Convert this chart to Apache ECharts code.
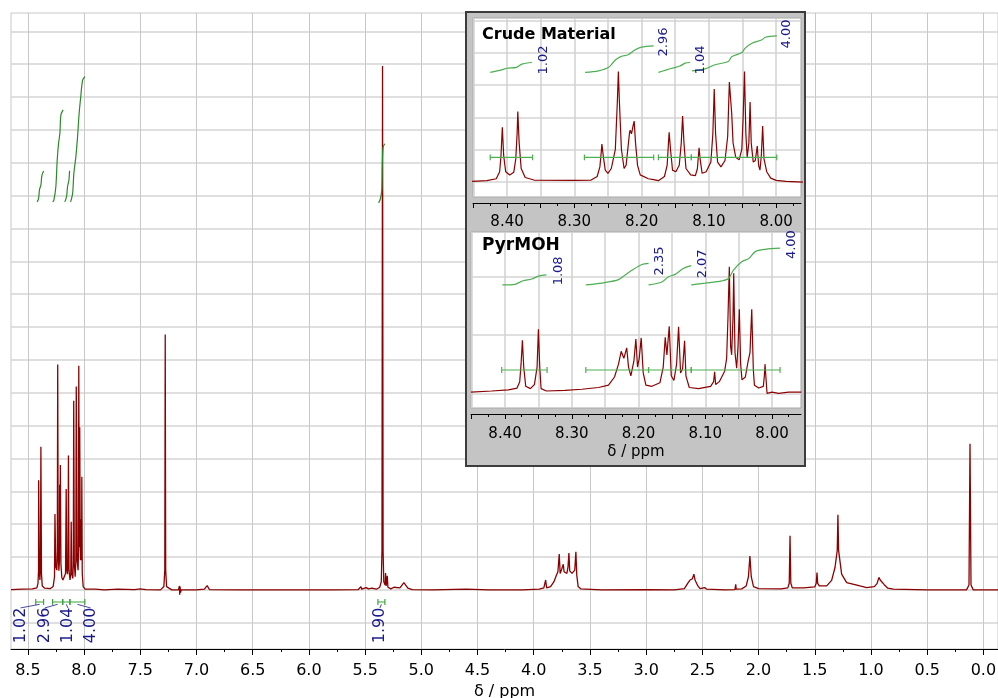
<!DOCTYPE html>
<html>
<head>
<meta charset="utf-8">
<script src="https://cdn.jsdelivr.net/npm/echarts@6/dist/echarts.min.js"></script>
<style>
html, body { margin: 0; padding: 0; background: #fff; }
#chart { width: 998px; height: 698px; }
</style>
</head>
<body>
<div id="chart"></div>
<script>
// ---- main spectrum: [ppm, intensity] (intensity in grid rows) ----
var mainSpectrum = [
  [8.65,0.01],[8.55,0.02],[8.46,0.03],[8.42,0.06],[8.41,0.2],[8.405,0.6],[8.404,3.34],[8.398,0.6],[8.393,0.3],
  [8.388,0.7],[8.384,4.36],[8.379,0.5],[8.372,0.12],[8.35,0.05],[8.30,0.04],[8.275,0.1],[8.263,0.4],[8.259,2.31],
  [8.252,0.7],[8.242,0.6],[8.238,1.2],[8.2345,6.86],[8.230,1.0],[8.224,0.58],[8.219,0.9],[8.217,3.2],[8.215,1.6],
  [8.211,3.80],[8.206,0.8],[8.198,0.38],[8.188,0.3],[8.175,0.27],[8.165,0.5],[8.159,3.07],[8.154,0.6],[8.148,0.48],
  [8.143,0.8],[8.139,4.09],[8.134,0.6],[8.125,0.3],[8.118,0.5],[8.1145,2.07],[8.11,0.5],[8.1,0.35],[8.096,0.8],
  [8.092,5.76],[8.087,0.8],[8.079,0.4],[8.073,0.9],[8.0695,6.19],[8.066,4.4],[8.062,0.9],[8.053,0.6],[8.05,1.2],
  [8.047,6.82],[8.043,1.3],[8.0387,4.95],[8.034,1.2],[8.031,0.9],[8.028,2.15],[8.025,0.9],[8.022,1.0],[8.020,3.44],
  [8.016,0.5],[8.008,0.1],[7.99,0.02],[7.9,0.02],[7.82,0.0],[7.7,0.02],[7.55,0.01],[7.5,0.03],[7.45,0.01],
  [7.32,0.0],[7.29,0.1],[7.282,0.6],[7.278,7.77],[7.274,0.6],[7.266,0.1],[7.22,0.0],[7.16,0.0],[7.152,0.12],
  [7.149,-0.15],[7.146,0.1],[7.142,-0.08],[7.135,0.0],[7.0,0.0],[6.93,0.02],[6.905,0.13],[6.885,0.01],[6.6,0.0],
  [6.2,0.0],[5.8,0.0],[5.56,0.01],[5.537,0.1],[5.53,0.02],[5.49,0.07],[5.47,0.03],[5.44,0.05],[5.40,0.02],
  [5.37,0.08],[5.356,0.25],[5.35,1.2],[5.345,15.95],[5.34,1.2],[5.334,0.25],[5.322,0.15],[5.318,0.51],[5.313,0.12],
  [5.303,0.43],[5.297,0.08],[5.27,0.03],[5.244,0.08],[5.23,0.02],[5.19,0.06],[5.155,0.22],[5.12,0.05],[5.08,0.01],
  [4.9,0.0],[4.6,0.02],[4.4,0.0],[4.1,0.0],[3.95,0.02],[3.91,0.06],[3.894,0.30],[3.885,0.06],[3.85,0.1],
  [3.82,0.25],[3.80,0.43],[3.785,0.55],[3.773,1.09],[3.765,0.5],[3.752,0.62],[3.745,0.7],[3.737,0.78],[3.73,0.55],
  [3.72,0.6],[3.705,0.5],[3.695,0.7],[3.687,1.12],[3.68,0.58],[3.669,0.6],[3.66,0.5],[3.648,0.45],[3.635,0.6],
  [3.625,1.16],[3.617,0.45],[3.605,0.1],[3.58,0.03],[3.4,0.0],[3.0,0.01],[2.75,0.0],[2.66,0.04],[2.626,0.22],
  [2.61,0.3],[2.59,0.33],[2.575,0.48],[2.565,0.3],[2.557,0.3],[2.54,0.12],[2.52,0.04],[2.48,0.07],[2.46,0.02],
  [2.30,0.0],[2.21,0.01],[2.203,0.17],[2.199,0.02],[2.15,0.03],[2.11,0.12],[2.09,0.4],[2.077,1.03],[2.065,0.4],
  [2.045,0.1],[2.0,0.04],[1.8,0.03],[1.74,0.06],[1.727,0.2],[1.72,1.65],[1.713,0.2],[1.70,0.06],[1.6,0.06],
  [1.5,0.09],[1.487,0.2],[1.480,0.53],[1.474,0.2],[1.46,0.12],[1.394,0.12],[1.35,0.29],[1.32,0.68],[1.30,1.2],
  [1.294,2.29],[1.288,1.2],[1.261,0.48],[1.216,0.22],[1.098,0.12],[1.038,0.07],[0.97,0.1],[0.945,0.2],[0.929,0.38],
  [0.918,0.3],[0.905,0.27],[0.88,0.15],[0.85,0.05],[0.8,0.02],[0.5,0.0],[0.15,0.0],[0.128,0.15],[0.119,4.45],
  [0.11,0.15],[0.09,0.0],[-0.13,0.0]
];
var mainIntegrals = [
  [[8.417,11.81],[8.405,11.91],[8.396,12.19],[8.384,12.32],[8.375,12.62],[8.36,12.75]],
  [[8.28,11.81],[8.269,11.86],[8.251,12.27],[8.239,13.08],[8.227,13.59],[8.215,13.90],[8.206,14.46],[8.186,14.61]],
  [[8.171,11.81],[8.156,11.97],[8.147,12.27],[8.135,12.47],[8.129,12.76]],
  [[8.12,11.81],[8.102,12.06],[8.091,12.67],[8.073,13.18],[8.058,13.79],[8.044,14.50],[8.031,14.96],[8.013,15.52],[7.993,15.62]],
  [[5.38,11.78],[5.365,11.89],[5.352,12.16],[5.347,12.93],[5.34,13.47],[5.325,13.58]]
];
var mainBrackets = [[8.43,8.36],[8.28,8.19],[8.19,8.126],[8.126,7.993],[5.386,5.324]];
var mainBracketLevel = -0.37;
var mainLabels = ['1.02','2.96','1.04','4.00','1.90'];
var mainLabelPpm = [8.565,8.349,8.144,7.942,5.368];
var mainLabelLevel = -1.08;
var mainMajorTicks = [8.5,8.0,7.5,7.0,6.5,6.0,5.5,5.0,4.5,4.0,3.5,3.0,2.5,2.0,1.5,1.0,0.5,0.0];
var mainMinorTicks = [8.5,8.25,8.0,7.75,7.5,7.25,7.0,6.75,6.5,6.25,6.0,5.75,5.5,5.25,5.0,4.75,4.5,4.25,4.0,3.75,
  3.5,3.25,3.0,2.75,2.5,2.25,2.0,1.75,1.5,1.25,1.0,0.75,0.5,0.25,0.0];
var mainRows = [-1,0,1,2,3,4,5,6,7,8,9,10,11,12,13,14,15,16,17];

// ---- inset: crude material ----
var crudeSpectrum = [
  [8.452,0.0],[8.43,0.02],[8.416,0.08],[8.411,0.3],[8.409,0.8],[8.407,1.69],[8.405,0.8],[8.402,0.3],[8.396,0.2],
  [8.39,0.28],[8.387,0.7],[8.385,1.5],[8.384,2.18],[8.382,1.2],[8.379,0.4],[8.373,0.12],[8.36,0.04],[8.30,0.03],
  [8.275,0.04],[8.266,0.15],[8.262,0.45],[8.26,0.9],[8.259,1.16],[8.257,0.8],[8.254,0.35],[8.25,0.25],[8.245,0.4],
  [8.239,1.0],[8.236,2.5],[8.2345,3.43],[8.233,2.5],[8.23,1.0],[8.226,0.4],[8.223,0.5],[8.22,1.1],[8.218,1.5],
  [8.217,1.60],[8.215,1.48],[8.2125,1.75],[8.211,1.88],[8.209,1.2],[8.206,0.5],[8.202,0.2],[8.19,0.08],[8.182,0.05],
  [8.175,0.02],[8.166,0.15],[8.162,0.5],[8.16,1.2],[8.159,1.53],[8.157,1.0],[8.154,0.35],[8.149,0.3],[8.144,0.5],
  [8.141,1.2],[8.139,2.04],[8.137,1.2],[8.134,0.4],[8.127,0.2],[8.12,0.18],[8.117,0.4],[8.1155,0.8],[8.1145,1.05],
  [8.113,0.7],[8.11,0.25],[8.104,0.3],[8.097,0.6],[8.094,1.5],[8.092,2.88],[8.09,1.5],[8.087,0.6],[8.082,0.45],
  [8.076,0.65],[8.072,1.4],[8.0695,3.10],[8.067,2.4],[8.066,2.12],[8.064,1.2],[8.06,0.75],[8.055,0.67],[8.051,1.0],
  [8.049,2.0],[8.047,3.43],[8.045,1.5],[8.043,0.75],[8.0405,1.2],[8.0387,2.48],[8.037,1.2],[8.034,0.6],[8.031,0.65],
  [8.029,0.95],[8.028,1.10],[8.026,0.5],[8.024,0.35],[8.022,0.8],[8.020,1.73],[8.018,0.7],[8.014,0.3],[8.008,0.1],
  [8.0,0.03],[7.985,0.0],[7.958,-0.03]
];
var crudeIntegrals = [
  [[8.425,3.40],[8.408,3.48],[8.400,3.53],[8.386,3.56],[8.378,3.66],[8.363,3.71]],
  [[8.284,3.40],[8.264,3.45],[8.249,3.56],[8.239,3.79],[8.230,3.90],[8.220,3.95],[8.210,4.10],[8.200,4.19],[8.182,4.23]],
  [[8.175,3.40],[8.163,3.48],[8.155,3.53],[8.143,3.60],[8.135,3.69],[8.128,3.71]],
  [[8.125,3.45],[8.106,3.51],[8.091,3.64],[8.071,3.74],[8.066,3.89],[8.051,4.02],[8.046,4.16],[8.036,4.31],[8.021,4.42],[8.016,4.50],[7.999,4.54]]
];
var crudeBrackets = [[8.425,8.362],[8.285,8.182],[8.175,8.126],[8.126,7.999]];
var crudeBracketLevel = 0.75;
var crudeLabels = ['1.02','2.96','1.04','4.00'];
var crudeLabelPpm = [8.346,8.167,8.112,7.984];
var crudeLabelLevel = [3.79,4.35,3.79,4.60];
var crudeRows = [0,1,2,3,4,5];

// ---- inset: PyrMOH ----
var pyrSpectrum = [
  [8.451,0.02],[8.42,0.04],[8.395,0.06],[8.382,0.09],[8.378,0.2],[8.376,0.5],[8.374,0.91],[8.372,0.45],[8.369,0.12],
  [8.362,0.08],[8.356,0.15],[8.352,0.45],[8.350,1.10],[8.348,0.45],[8.346,0.08],[8.338,0.04],[8.31,0.05],[8.285,0.07],
  [8.26,0.1],[8.245,0.14],[8.236,0.28],[8.23,0.5],[8.226,0.72],[8.224,0.74],[8.222,0.6],[8.2205,0.62],[8.2177,0.78],
  [8.215,0.45],[8.2115,0.3],[8.207,0.55],[8.204,0.93],[8.2015,0.45],[8.199,0.6],[8.196,0.95],[8.193,0.35],[8.189,0.14],
  [8.18,0.12],[8.168,0.18],[8.163,0.45],[8.160,0.96],[8.1575,0.66],[8.154,1.15],[8.151,0.3],[8.147,0.22],[8.143,0.5],
  [8.140,1.14],[8.137,0.35],[8.134,0.42],[8.131,0.90],[8.129,0.3],[8.124,0.1],[8.11,0.08],[8.092,0.12],[8.0875,0.2],
  [8.086,0.37],[8.0845,0.15],[8.079,0.2],[8.071,0.38],[8.068,0.6],[8.066,1.3],[8.064,2.17],[8.062,0.8],[8.0605,0.66],
  [8.0585,1.3],[8.0574,2.06],[8.0555,0.7],[8.053,0.43],[8.051,0.8],[8.049,1.44],[8.047,0.5],[8.045,0.23],[8.04,0.28],
  [8.036,0.54],[8.033,0.7],[8.0304,1.44],[8.028,0.4],[8.0264,0.14],[8.02,0.09],[8.013,0.12],[8.0115,0.3],[8.0105,0.5],
  [8.009,0.25],[8.0075,0.0],[8.0,0.02],[7.99,0.0],[7.975,0.02],[7.956,0.02]
];
var pyrIntegrals = [
  [[8.404,1.86],[8.385,1.87],[8.373,1.93],[8.360,1.96],[8.350,2.01],[8.338,2.03]],
  [[8.279,1.86],[8.250,1.90],[8.230,1.95],[8.220,2.03],[8.210,2.11],[8.195,2.21],[8.185,2.23]],
  [[8.185,1.86],[8.165,1.91],[8.155,2.00],[8.145,2.04],[8.133,2.14],[8.121,2.19]],
  [[8.121,1.86],[8.100,1.89],[8.075,1.93],[8.065,1.97],[8.058,2.11],[8.045,2.26],[8.035,2.31],[8.025,2.43],[8.010,2.47],[7.988,2.49]]
];
var pyrBrackets = [[8.405,8.337],[8.279,8.185],[8.185,8.121],[8.121,7.988]];
var pyrBracketLevel = 0.40;
var pyrLabels = ['1.08','2.35','2.07','4.00'];
var pyrLabelPpm = [8.319,8.168,8.104,7.970];
var pyrLabelLevel = [2.10,2.27,2.22,2.55];
var pyrRows = [0,1,2];

var insetLabelTicks = [8.40,8.30,8.20,8.10,8.00];
var insetMajorTicks = [8.45,8.40,8.35,8.30,8.25,8.20,8.15,8.10,8.05,8.00];
var insetMinorTicks = [8.45,8.425,8.40,8.375,8.35,8.325,8.30,8.275,8.25,8.225,8.20,8.175,8.15,8.125,8.10,8.075,8.05,8.025,8.00,7.975];

var FONT = 'DejaVu Sans';
var RED = '#8b0000';
var BLUE = '#1a1a8c';

function valueAxis(grid, min, max, o) {
  var a = {
    type: 'value', gridIndex: grid, min: min, max: max, position: 'bottom',
    axisLine: { show: false, onZero: false }, axisTick: { show: false }, axisLabel: { show: false },
    splitLine: { show: false }
  };
  for (var k in o) a[k] = o[k];
  return a;
}

function lineSeries(data, xi, yi, color, width, extra) {
  var s = {
    type: 'line', xAxisIndex: xi, yAxisIndex: yi, data: data,
    showSymbol: false, symbol: 'none', silent: true,
    lineStyle: { color: color, width: width }
  };
  for (var k in extra) s[k] = extra[k];
  return s;
}

function bracketSeries(list, level, d, xi, yi, color, extra) {
  return list.map(function (b) {
    return lineSeries([[b[0], level - d], [b[0], level + d], [b[0], level], [b[1], level],
      [b[1], level + d], [b[1], level - d]], xi, yi, color, 1.2, extra);
  });
}

function labelSeries(names, ppm, level, xi, yi, size, extra) {
  var s = {
    type: 'scatter', xAxisIndex: xi, yAxisIndex: yi, symbolSize: 0, silent: true,
    itemStyle: { opacity: 1 },
    data: names.map(function (n, i) {
      return { name: n, value: [ppm[i], Array.isArray(level) ? level[i] : level] };
    }),
    label: { show: true, position: 'inside', rotate: 90, formatter: '{b}', opacity: 1,
      color: BLUE, fontSize: size, fontFamily: FONT }
  };
  for (var k in extra) s[k] = extra[k];
  return s;
}

var chart = echarts.init(document.getElementById('chart'));

var series = [];
series.push(lineSeries(mainSpectrum, 0, 0, RED, 1.3, { z: 3 }));
mainIntegrals.forEach(function (c) {
  series.push(lineSeries(c, 0, 0, '#2a8a2a', 1.2, { smooth: 0.3 }));
});
series = series.concat(bracketSeries(mainBrackets, mainBracketLevel, 0.09, 0, 0, '#3aa53a', {}));
mainBrackets.forEach(function (b, i) {
  series.push(lineSeries([[mainLabelPpm[i], -0.55], [(b[0] + b[1]) / 2, -0.44]], 0, 0, BLUE, 0.8, {}));
});
series.push(labelSeries(mainLabels, mainLabelPpm, mainLabelLevel, 0, 0, 16, {}));

series.push(lineSeries(crudeSpectrum, 2, 1, RED, 1.2, { zlevel: 1, z: 6, clip: true }));
crudeIntegrals.forEach(function (c) {
  series.push(lineSeries(c, 2, 1, '#4caf50', 1.2, { zlevel: 1, z: 6, smooth: 0.3 }));
});
series = series.concat(bracketSeries(crudeBrackets, crudeBracketLevel, 0.09, 2, 1, '#4caf50', { zlevel: 1, z: 6 }));
series.push(labelSeries(crudeLabels, crudeLabelPpm, crudeLabelLevel, 2, 1, 13, { zlevel: 1, z: 7 }));

series.push(lineSeries(pyrSpectrum, 4, 2, RED, 1.2, { zlevel: 1, z: 6, clip: true }));
pyrIntegrals.forEach(function (c) {
  series.push(lineSeries(c, 4, 2, '#4caf50', 1.2, { zlevel: 1, z: 6, smooth: 0.3 }));
});
series = series.concat(bracketSeries(pyrBrackets, pyrBracketLevel, 0.05, 4, 2, '#4caf50', { zlevel: 1, z: 6 }));
series.push(labelSeries(pyrLabels, pyrLabelPpm, pyrLabelLevel, 4, 2, 13, { zlevel: 1, z: 7 }));

function insetXAxes(grid, min, max, withName, margin) {
  var major = valueAxis(grid, min, max, {
    inverse: true, zlevel: 1, z: 4, offset: 6,
    axisLine: { show: true, onZero: false, lineStyle: { color: '#000', width: 1 } },
    axisTick: { show: true, customValues: insetMajorTicks, length: 5, lineStyle: { color: '#000' } },
    axisLabel: { show: true, customValues: insetLabelTicks, margin: margin, color: '#000', fontSize: 15,
      fontFamily: FONT, formatter: function (v) { return v.toFixed(2); } },
    splitLine: { show: true, lineStyle: { color: '#d0d0d0', width: 1.5 } }
  });
  if (withName) {
    major.name = 'δ / ppm';
    major.nameLocation = 'middle';
    major.nameGap = 31;
    major.nameTextStyle = { color: '#000', fontSize: 15, fontFamily: FONT };
  }
  var minor = valueAxis(grid, min, max, {
    inverse: true, zlevel: 1, z: 4, offset: 6,
    axisLine: { show: false, onZero: false },
    axisTick: { show: true, customValues: insetMinorTicks, length: 3, lineStyle: { color: '#000' } }
  });
  return [major, minor];
}

var xAxes = [
  valueAxis(0, -0.13, 8.65, {
    inverse: true,
    axisLine: { show: true, onZero: false, lineStyle: { color: '#000', width: 1 } },
    axisTick: { show: true, customValues: mainMajorTicks, length: 6, lineStyle: { color: '#000' } },
    axisLabel: { show: true, customValues: mainMajorTicks, margin: 14, color: '#000', fontSize: 16,
      fontFamily: FONT, formatter: function (v) { return v.toFixed(1); } },
    splitLine: { show: true, lineStyle: { color: '#c8c8c8', width: 1 } },
    name: 'δ / ppm', nameLocation: 'middle', nameGap: 33,
    nameTextStyle: { color: '#000', fontSize: 16, fontFamily: FONT }
  }),
  valueAxis(0, -0.13, 8.65, {
    inverse: true,
    axisLine: { show: false, onZero: false },
    axisTick: { show: true, customValues: mainMinorTicks, length: 3, lineStyle: { color: '#000' } }
  })
].concat(insetXAxes(1, 7.963, 8.4506, false, 12)).concat(insetXAxes(2, 7.9566, 8.451, true, 13));

var yAxes = [
  valueAxis(0, -1.8, 17.56, {
    position: 'left',
    axisTick: { show: false, customValues: mainRows },
    splitLine: { show: true, lineStyle: { color: '#d4d4d4', width: 1.5 } }
  }),
  valueAxis(1, -0.49, 5.10, {
    position: 'left', zlevel: 1, z: 4,
    axisTick: { show: false, customValues: crudeRows },
    splitLine: { show: true, lineStyle: { color: '#d4d4d4', width: 1.5 } }
  }),
  valueAxis(2, -0.252, 2.767, {
    position: 'left', zlevel: 1, z: 4,
    axisTick: { show: false, customValues: pyrRows },
    splitLine: { show: true, lineStyle: { color: '#d4d4d4', width: 1.5 } }
  })
];

chart.setOption({
  animation: false,
  backgroundColor: '#ffffff',
  textStyle: { fontFamily: FONT },
  grid: [
    { left: 11, right: 0, top: 13, bottom: 49, show: true, borderColor: '#c8c8c8', borderWidth: 1,
      backgroundColor: 'transparent', outerBoundsMode: 'none' },
    { left: 473, top: 18, width: 328, height: 179, outerBoundsMode: 'none' },
    { left: 471, top: 232, width: 330, height: 176, outerBoundsMode: 'none' }
  ],
  xAxis: xAxes,
  yAxis: yAxes,
  graphic: { elements: [
    { type: 'rect', zlevel: 1, z: 0, silent: true, shape: { x: 466, y: 12, width: 339, height: 454 },
      style: { fill: '#c4c4c4', stroke: '#3c3c3c', lineWidth: 2 } },
    { type: 'rect', zlevel: 1, z: 1, silent: true, shape: { x: 473, y: 18, width: 328, height: 179 },
      style: { fill: '#ffffff', stroke: '#a8a8a8', lineWidth: 1 } },
    { type: 'rect', zlevel: 1, z: 1, silent: true, shape: { x: 471, y: 232, width: 330, height: 176 },
      style: { fill: '#ffffff', stroke: '#a8a8a8', lineWidth: 1 } },
    { type: 'text', zlevel: 1, z: 10, silent: true, x: 482, y: 35,
      style: { text: 'Crude Material', font: 'bold 16px "DejaVu Sans"', fill: '#000', verticalAlign: 'middle' } },
    { type: 'text', zlevel: 1, z: 10, silent: true, x: 482, y: 246,
      style: { text: 'PyrMOH', font: 'bold 17px "DejaVu Sans"', fill: '#000', verticalAlign: 'middle' } }
  ] },
  series: series
});
</script>
</body>
</html>
